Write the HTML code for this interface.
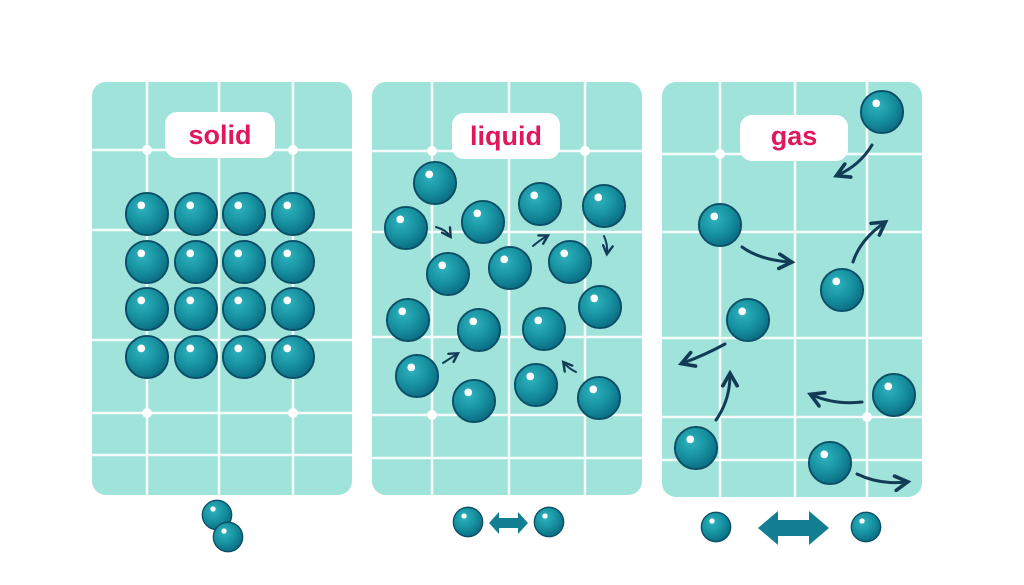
<!DOCTYPE html>
<html><head><meta charset="utf-8"><style>
html,body{margin:0;padding:0;background:#fff;width:1024px;height:585px;overflow:hidden}
svg text{font-family:"Liberation Sans","DejaVu Sans",sans-serif;font-weight:bold;fill:#e0185a}
</style></head><body>
<svg width="1024" height="585" viewBox="0 0 1024 585" xmlns="http://www.w3.org/2000/svg">
<defs>
<radialGradient id="b" cx="0.38" cy="0.35" r="0.7">
<stop offset="0" stop-color="#2fb3bd"/><stop offset="0.55" stop-color="#16909f"/><stop offset="1" stop-color="#0a6a80"/>
</radialGradient>
<symbol id="ball" viewBox="-24 -24 48 48" overflow="visible">
<circle r="22" fill="url(#b)" stroke="#0b4e66" stroke-width="2"/>
<circle cx="-6" cy="-9" r="4" fill="#fff"/>
</symbol>
<marker id="ah" viewBox="0 0 10 10" refX="7" refY="5" markerWidth="6" markerHeight="6" orient="auto"><path d="M1 1 L8 5 L1 9" fill="none" stroke="#123c55" stroke-width="2" stroke-linecap="round"/></marker>
</defs>
<g fill="#9fe3da">
<rect x="92" y="82" width="260" height="413" rx="14"/>
<rect x="372" y="82" width="270" height="413" rx="14"/>
<rect x="662" y="82" width="260" height="415" rx="14"/>
</g>
<g stroke="#fff" stroke-width="2.5" opacity="0.9">
<path d="M147 82V495M219 82V495M293 82V495M92 150H352M92 230H352M92 340H352M92 413H352M92 455H352"/>
<path d="M432 82V495M509 82V495M585 82V495M372 151H642M372 232H642M372 337H642M372 415H642M372 458H642"/>
<path d="M720 82V497M795 82V497M867 82V497M662 154H922M662 232H922M662 338H922M662 417H922M662 460H922"/>
</g>
<g fill="#fff"><circle cx="147" cy="150" r="5"/><circle cx="293" cy="150" r="5"/><circle cx="147" cy="413" r="5"/><circle cx="293" cy="413" r="5"/>
<circle cx="432" cy="151" r="5"/><circle cx="585" cy="151" r="5"/><circle cx="432" cy="415" r="5"/><circle cx="720" cy="154" r="5"/><circle cx="867" cy="417" r="5"/></g>
<g fill="#fff"><rect x="165" y="112" width="110" height="46" rx="12"/><rect x="452" y="113" width="108" height="46" rx="12"/><rect x="740" y="115" width="108" height="46" rx="12"/></g>
<text x="220" y="144" font-size="27" text-anchor="middle">solid</text>
<text x="506" y="145" font-size="27" text-anchor="middle">liquid</text>
<text x="794" y="145" font-size="27" text-anchor="middle">gas</text>
<g>
<use href="#ball" x="124" y="191" width="46" height="46"/><use href="#ball" x="173" y="191" width="46" height="46"/><use href="#ball" x="221" y="191" width="46" height="46"/><use href="#ball" x="270" y="191" width="46" height="46"/>
<use href="#ball" x="124" y="239" width="46" height="46"/><use href="#ball" x="173" y="239" width="46" height="46"/><use href="#ball" x="221" y="239" width="46" height="46"/><use href="#ball" x="270" y="239" width="46" height="46"/>
<use href="#ball" x="124" y="286" width="46" height="46"/><use href="#ball" x="173" y="286" width="46" height="46"/><use href="#ball" x="221" y="286" width="46" height="46"/><use href="#ball" x="270" y="286" width="46" height="46"/>
<use href="#ball" x="124" y="334" width="46" height="46"/><use href="#ball" x="173" y="334" width="46" height="46"/><use href="#ball" x="221" y="334" width="46" height="46"/><use href="#ball" x="270" y="334" width="46" height="46"/>
</g>
<g>
<use href="#ball" x="412" y="160" width="46" height="46"/><use href="#ball" x="383" y="205" width="46" height="46"/><use href="#ball" x="460" y="199" width="46" height="46"/><use href="#ball" x="517" y="181" width="46" height="46"/><use href="#ball" x="581" y="183" width="46" height="46"/>
<use href="#ball" x="425" y="251" width="46" height="46"/><use href="#ball" x="487" y="245" width="46" height="46"/><use href="#ball" x="547" y="239" width="46" height="46"/>
<use href="#ball" x="385" y="297" width="46" height="46"/><use href="#ball" x="456" y="307" width="46" height="46"/><use href="#ball" x="521" y="306" width="46" height="46"/><use href="#ball" x="577" y="284" width="46" height="46"/>
<use href="#ball" x="394" y="353" width="46" height="46"/><use href="#ball" x="451" y="378" width="46" height="46"/><use href="#ball" x="513" y="362" width="46" height="46"/><use href="#ball" x="576" y="375" width="46" height="46"/>
</g>
<g fill="none" stroke="#123c55" stroke-width="2" stroke-linecap="round" marker-end="url(#ah)">
<path d="M436 227Q446 230 450 236"/><path d="M533 246Q540 240 547 236"/><path d="M604 236Q608 245 607 253"/><path d="M443 363L457 354"/><path d="M576 372Q568 368 564 363"/>
</g>
<g>
<use href="#ball" x="859" y="89" width="46" height="46"/><use href="#ball" x="697" y="202" width="46" height="46"/><use href="#ball" x="819" y="267" width="46" height="46"/><use href="#ball" x="725" y="297" width="46" height="46"/><use href="#ball" x="871" y="372" width="46" height="46"/><use href="#ball" x="673" y="425" width="46" height="46"/><use href="#ball" x="807" y="440" width="46" height="46"/>
</g>
<g fill="none" stroke="#123c55" stroke-width="3" stroke-linecap="round" marker-end="url(#ah)">
<path d="M872 145Q860 165 838 175"/><path d="M742 247Q760 260 790 262"/><path d="M853 262Q860 240 884 223"/><path d="M725 344Q705 355 683 363"/><path d="M716 420Q730 400 730 375"/><path d="M862 402Q835 405 812 395"/><path d="M857 474Q880 485 906 482"/>
</g>
<g>
<use href="#ball" x="201" y="499" width="32" height="32"/><use href="#ball" x="212" y="521" width="32" height="32"/>
<use href="#ball" x="452" y="505" width="32" height="34"/><use href="#ball" x="533" y="505" width="32" height="34"/>
<use href="#ball" x="700" y="510" width="32" height="34"/><use href="#ball" x="850" y="510" width="32" height="34"/>
</g>
<path d="M489 523L499 512V518H518V512L528 523L518 534V528H499V534Z" fill="#137f93"/>
<path d="M758 528L778 511V520H809V511L829 528L809 545V536H778V545Z" fill="#137f93"/>
</svg>
</body></html>
